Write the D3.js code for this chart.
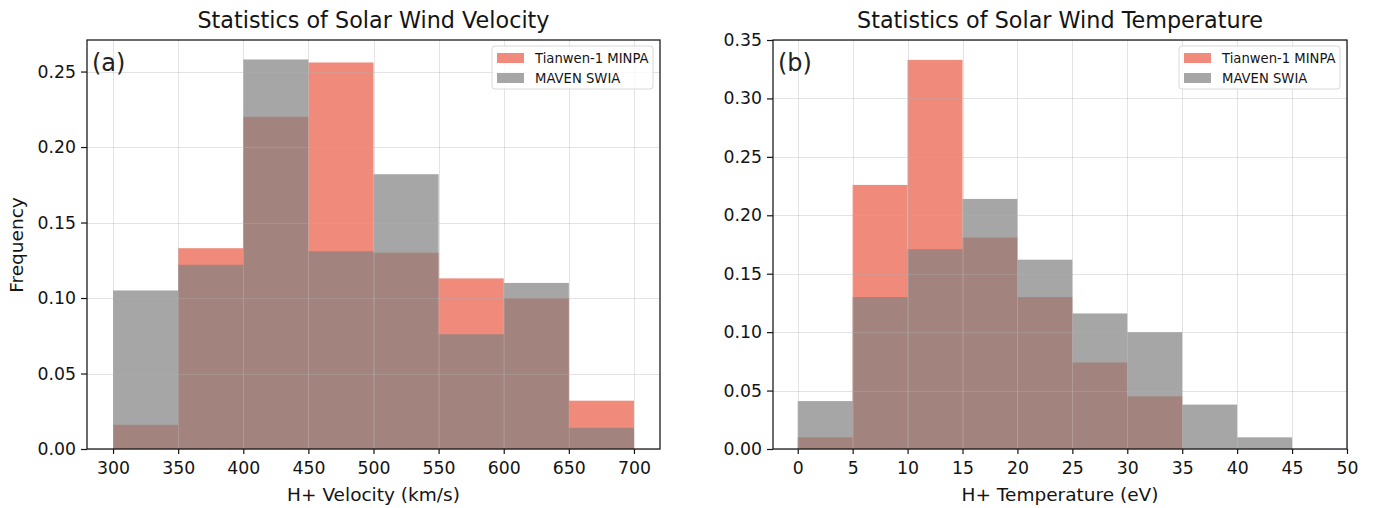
<!DOCTYPE html>
<html><head><meta charset="utf-8">
<script src="https://cdn.jsdelivr.net/npm/d3@7"></script>
<style>
body{margin:0;background:#fff;}
svg{display:block;font-family:"DejaVu Sans",sans-serif;}
</style></head><body>
<svg id="chart" width="1375" height="508"></svg>
<script>
// ---- data ----
const velocityBins = [300, 350, 400, 450, 500, 550, 600, 650, 700];
const velocityTicks = [300, 350, 400, 450, 500, 550, 600, 650, 700];
const velocityTianwen = [0.016, 0.133, 0.220, 0.256, 0.130, 0.113, 0.100, 0.032];
const velocityMaven = [0.105, 0.122, 0.258, 0.131, 0.182, 0.076, 0.110, 0.014];
const velocityYTicks = [0.00, 0.05, 0.10, 0.15, 0.20, 0.25];

const tempBins = [0, 5, 10, 15, 20, 25, 30, 35, 40, 45];
const tempTicks = [0, 5, 10, 15, 20, 25, 30, 35, 40, 45, 50];
const tempTianwen = [0.010, 0.226, 0.333, 0.181, 0.130, 0.074, 0.045, 0, 0];
const tempMaven = [0.041, 0.130, 0.171, 0.214, 0.162, 0.116, 0.100, 0.038, 0.010];
const tempYTicks = [0.00, 0.05, 0.10, 0.15, 0.20, 0.25, 0.30, 0.35];

const seriesNames = ["Tianwen-1 MINPA", "MAVEN SWIA"];
const titles = ["Statistics of Solar Wind Velocity", "Statistics of Solar Wind Temperature"];
const xLabels = ["H+ Velocity (km/s)", "H+ Temperature (eV)"];
const panelTags = ["(a)", "(b)"];

const svg = d3.select("#chart");
const salmon = "#f08b7b";
const gray = "#808080";
const textColor = "#141414";

function panel(opt) {
  const g = svg.append("g");
  const x = d3.scaleLinear().domain(opt.xDomain).range([opt.left, opt.right]);
  const y = d3.scaleLinear().domain(opt.yDomain).range([opt.bottom, opt.top]);

  const binsA = opt.bins.slice(0, -1).map((b, i) => ({x0: b, x1: opt.bins[i + 1], v: opt.a[i]}));
  const binsB = opt.bins.slice(0, -1).map((b, i) => ({x0: b, x1: opt.bins[i + 1], v: opt.b[i]}));

  g.selectAll("rect.a").data(binsA.filter(d => d.v > 0)).join("rect")
    .attr("x", d => x(d.x0)).attr("width", d => x(d.x1) - x(d.x0))
    .attr("y", d => y(d.v)).attr("height", d => y(0) - y(d.v))
    .attr("fill", salmon);
  g.selectAll("rect.b").data(binsB.filter(d => d.v > 0)).join("rect")
    .attr("x", d => x(d.x0)).attr("width", d => x(d.x1) - x(d.x0))
    .attr("y", d => y(d.v)).attr("height", d => y(0) - y(d.v))
    .attr("fill", gray).attr("fill-opacity", 0.7);

  // grid (drawn above bars)
  const grid = g.append("g").attr("stroke", "#b0b0b0").attr("stroke-opacity", 0.35).attr("stroke-width", 1);
  opt.xTicks.forEach(t => grid.append("line")
    .attr("x1", Math.round(x(t)) + 0.5).attr("x2", Math.round(x(t)) + 0.5)
    .attr("y1", opt.top).attr("y2", opt.bottom));
  opt.yTicks.forEach(t => grid.append("line")
    .attr("y1", Math.round(y(t)) + 0.5).attr("y2", Math.round(y(t)) + 0.5)
    .attr("x1", opt.left).attr("x2", opt.right));

  // axes
  const xAxis = d3.axisBottom(x).tickValues(opt.xTicks).tickSize(5).tickPadding(8).tickFormat(d3.format("d"));
  const yAxis = d3.axisLeft(y).tickValues(opt.yTicks).tickSize(6).tickPadding(5).tickFormat(d3.format(".2f"));
  const gx = g.append("g").attr("transform", `translate(0,${opt.bottom})`).call(xAxis);
  const gy = g.append("g").attr("transform", `translate(${opt.left},0)`).call(yAxis);
  [gx, gy].forEach(a => {
    a.select(".domain").remove();
    a.selectAll("line").attr("stroke", textColor).attr("stroke-width", 1.2);
    a.selectAll("text").attr("fill", textColor).attr("font-size", 17.3).attr("font-family", "DejaVu Sans");
  });

  // frame
  g.append("rect").attr("x", opt.left).attr("y", opt.top)
    .attr("width", opt.right - opt.left).attr("height", opt.bottom - opt.top)
    .attr("fill", "none").attr("stroke", textColor).attr("stroke-width", 1.25);

  // title, labels
  g.append("text").attr("x", (opt.left + opt.right) / 2).attr("y", 28)
    .attr("text-anchor", "middle").attr("font-size", 22.3).attr("fill", textColor).text(opt.title);
  g.append("text").attr("x", (opt.left + opt.right) / 2).attr("y", 501)
    .attr("text-anchor", "middle").attr("font-size", 18.5).attr("fill", textColor).text(opt.xLabel);
  g.append("text").attr("x", opt.left + 5).attr("y", 71)
    .attr("font-size", 24).attr("fill", "#222").text(opt.tag);

  // legend
  const lw = 161, lh = 43;
  const lx = opt.right - 7 - lw, ly = opt.top + 6;
  const leg = g.append("g").attr("transform", `translate(${lx},${ly})`);
  leg.append("rect").attr("width", lw).attr("height", lh).attr("rx", 3)
    .attr("fill", "#fff").attr("fill-opacity", 0.8).attr("stroke", "#d9d9d9");
  [[salmon, 1], [gray, 0.7]].forEach((c, i) => {
    leg.append("rect").attr("x", 5).attr("y", 7 + i * 20).attr("width", 27).attr("height", 10)
      .attr("fill", c[0]).attr("fill-opacity", c[1]);
    leg.append("text").attr("x", 43).attr("y", 17 + i * 20).attr("font-size", 13.2)
      .attr("fill", textColor).text(seriesNames[i]);
  });
}

panel({left: 87, right: 660, top: 40, bottom: 449,
  xDomain: [280, 720], yDomain: [0, 0.2709],
  bins: velocityBins, a: velocityTianwen, b: velocityMaven,
  xTicks: velocityTicks, yTicks: velocityYTicks,
  title: titles[0], xLabel: xLabels[0], tag: panelTags[0]});

panel({left: 773, right: 1347, top: 40, bottom: 449,
  xDomain: [-2.25, 50], yDomain: [0, 0.35],
  bins: tempBins, a: tempTianwen, b: tempMaven,
  xTicks: tempTicks, yTicks: tempYTicks,
  title: titles[1], xLabel: xLabels[1], tag: panelTags[1]});

svg.append("text").attr("transform", "translate(23,245) rotate(-90)")
  .attr("text-anchor", "middle").attr("font-size", 18.5).attr("fill", textColor).text("Frequency");
</script>
</body></html>
